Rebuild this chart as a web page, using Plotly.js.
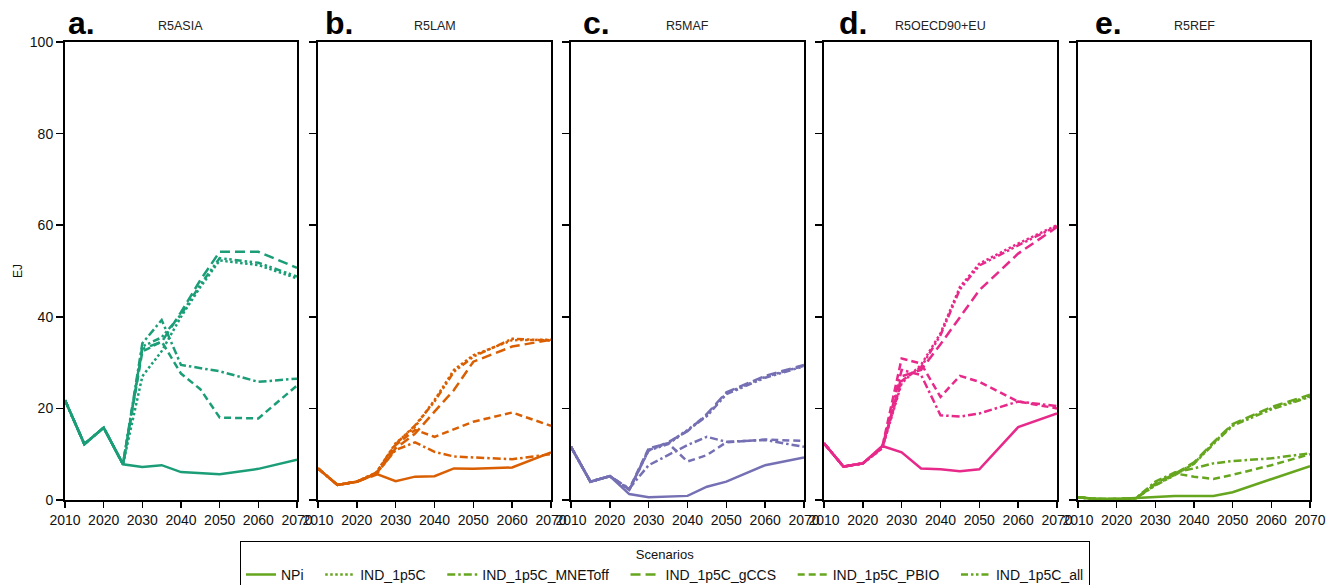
<!DOCTYPE html>
<html>
<head>
<meta charset="utf-8">
<script src="https://cdn.plot.ly/plotly-3.0.1.min.js"></script>
<style>html,body{margin:0;padding:0;background:#fff;}#chart{width:1330px;height:585px;}</style>
</head>
<body>
<div id="chart"></div>
<script>
// ---- data ----
const years = [2010, 2015, 2020, 2025, 2030, 2035, 2040, 2045, 2050, 2060, 2070];
const regions = ['R5ASIA', 'R5LAM', 'R5MAF', 'R5OECD90+EU', 'R5REF'];
const panelLetters = ['a.', 'b.', 'c.', 'd.', 'e.'];
const scenarios = ['NPi', 'IND_1p5C', 'IND_1p5C_MNEToff', 'IND_1p5C_gCCS', 'IND_1p5C_PBIO', 'IND_1p5C_all'];
const yTicks = [0, 20, 40, 60, 80, 100];
const xTicks = [2010, 2020, 2030, 2040, 2050, 2060, 2070];

// rows follow the scenarios order
const valsASIA = [
  [21.8, 12.2, 15.8, 7.8, 7.2, 7.6, 6.1, 5.9, 5.6, 6.8, 8.8],
  [21.8, 12.2, 15.8, 7.8, 27.0, 32.5, 40.0, 46.5, 52.3, 51.3, 48.4],
  [21.8, 12.2, 15.8, 7.8, 34.2, 39.3, 29.5, 28.8, 28.1, 25.8, 26.5],
  [21.8, 12.2, 15.8, 7.8, 33.0, 34.5, 41.0, 48.0, 54.2, 54.2, 50.7],
  [21.8, 12.2, 15.8, 7.8, 32.4, 34.6, 27.6, 24.2, 18.0, 17.8, 25.0],
  [21.8, 12.2, 15.8, 7.8, 33.5, 35.5, 40.5, 47.0, 52.8, 51.8, 48.8]
];
const valsLAM = [
  [6.9, 3.3, 4.0, 5.7, 4.1, 5.1, 5.2, 6.9, 6.8, 7.1, 10.4],
  [6.9, 3.3, 4.0, 6.0, 12.4, 16.0, 21.8, 28.4, 31.6, 34.9, 35.0],
  [6.9, 3.3, 4.0, 5.8, 10.9, 12.6, 10.5, 9.5, 9.3, 8.9, 10.0],
  [6.9, 3.3, 4.0, 5.5, 11.3, 14.5, 19.3, 24.0, 30.2, 33.5, 35.0],
  [6.9, 3.3, 4.0, 5.8, 12.0, 15.3, 13.8, 15.5, 17.1, 19.1, 16.2],
  [6.9, 3.3, 4.0, 6.0, 12.2, 16.3, 21.5, 28.0, 31.3, 35.2, 34.8]
];
const valsMAF = [
  [11.6, 4.0, 5.2, 1.3, 0.6, 0.8, 0.9, 2.9, 4.0, 7.6, 9.3],
  [11.6, 4.0, 5.2, 2.2, 10.9, 12.4, 15.3, 18.5, 23.3, 26.9, 29.3],
  [11.6, 4.0, 5.2, 2.5, 7.6, 9.8, 12.0, 13.8, 12.7, 13.1, 11.6],
  [11.6, 4.0, 5.2, 2.3, 11.0, 12.6, 15.0, 18.8, 23.5, 27.1, 29.5],
  [11.6, 4.0, 5.2, 2.4, 11.3, 12.4, 8.4, 9.8, 12.6, 13.2, 12.9],
  [11.6, 4.0, 5.2, 2.2, 10.8, 12.2, 15.2, 18.3, 23.1, 26.7, 29.2]
];
const valsOECD = [
  [12.4, 7.3, 8.0, 11.8, 10.4, 6.9, 6.7, 6.3, 6.7, 15.9, 18.9],
  [12.4, 7.3, 8.0, 11.3, 25.5, 29.5, 36.4, 46.5, 51.6, 56.0, 60.0],
  [12.4, 7.3, 8.0, 11.5, 28.4, 27.3, 18.5, 18.2, 18.9, 21.5, 20.5],
  [12.4, 7.3, 8.0, 11.4, 27.0, 28.4, 34.0, 40.0, 45.8, 53.8, 59.6],
  [12.4, 7.3, 8.0, 11.6, 30.9, 29.8, 22.5, 27.1, 25.8, 21.5, 20.0],
  [12.4, 7.3, 8.0, 11.3, 26.0, 29.0, 36.0, 46.0, 51.2, 55.6, 59.8]
];
const valsREF = [
  [0.6, 0.2, 0.2, 0.4, 0.6, 0.9, 0.9, 0.9, 1.7, 4.6, 7.4],
  [0.6, 0.2, 0.2, 0.4, 3.3, 5.5, 8.0, 12.4, 16.4, 20.0, 22.7],
  [0.6, 0.2, 0.2, 0.4, 4.0, 6.0, 6.9, 8.0, 8.5, 9.1, 10.2],
  [0.6, 0.2, 0.2, 0.4, 3.5, 5.7, 8.2, 12.6, 16.6, 20.3, 23.0],
  [0.6, 0.2, 0.2, 0.4, 3.6, 5.8, 5.1, 4.6, 5.5, 7.6, 10.0],
  [0.6, 0.2, 0.2, 0.4, 3.2, 5.4, 7.9, 12.2, 16.2, 19.8, 22.5]
];
const regionValues = [valsASIA, valsLAM, valsMAF, valsOECD, valsREF];

// ---- styles ----
const regionColors = ['#1b9e77', '#d95f02', '#7570b3', '#e7298a', '#66a61e'];
const scenarioDash = ['solid', '2.5px,2.5px', '8px,3px,2.5px,3px', '10px,5px', '7px,4px', '7px,3px,2.5px,2.5px,2.5px,3px'];
const W = 1330, H = 585;
const panelPx = [[65, 297], [318, 551], [571, 804], [824, 1057], [1078, 1310]];
const plotTop = 42, plotBottom = 500;
const px = v => v / W;
const py = v => 1 - v / H;
const FONT = 'Liberation Sans, Arial, sans-serif';
const PAD = '\u00a0\u00a0\u00a0';

const traces = [];
regionValues.forEach((vals, r) => {
  const sfx = r === 0 ? '' : String(r + 1);
  vals.forEach((row, s) => {
    traces.push({
      type: 'scatter', mode: 'lines',
      x: years, y: row,
      xaxis: 'x' + sfx, yaxis: 'y' + sfx,
      name: scenarios[s] + (s < scenarios.length - 1 ? PAD : ''),
      legendgroup: scenarios[s],
      showlegend: r === regionValues.length - 1,
      line: { color: regionColors[r], width: 2.5, dash: scenarioDash[s] },
      hoverinfo: 'skip'
    });
  });
});

const layout = {
  width: W, height: H,
  margin: { l: 0, r: 0, t: 0, b: 0, autoexpand: false },
  paper_bgcolor: '#fff', plot_bgcolor: '#fff',
  font: { family: FONT, size: 14, color: '#111' },
  showlegend: true,
  legend: {
    orientation: 'h',
    x: 0.5, xanchor: 'center',
    y: py(541), yanchor: 'top',
    bordercolor: '#000', borderwidth: 1,
    bgcolor: '#fff',
    font: { family: FONT, size: 14, color: '#111' },
    title: { text: 'Scenarios', side: 'top center', font: { family: FONT, size: 13, color: '#111' } },
    traceorder: 'normal'
  },
  annotations: [],
  hovermode: false
};

panelPx.forEach((p, i) => {
  const sfx = i === 0 ? '' : String(i + 1);
  layout['xaxis' + sfx] = {
    domain: [px(p[0]), px(p[1])],
    anchor: 'y' + sfx,
    range: [2010, 2070],
    tickvals: xTicks, ticktext: xTicks.map(String),
    ticks: 'outside', ticklen: 6, tickwidth: 1.5, tickcolor: '#000',
    showline: true, linewidth: 2, linecolor: '#000', mirror: true,
    showgrid: false, zeroline: false,
    tickfont: { family: FONT, size: 14, color: '#111' },
    fixedrange: true
  };
  layout['yaxis' + sfx] = {
    domain: [py(plotBottom), py(plotTop)],
    anchor: 'x' + sfx,
    range: [0, 100],
    tickvals: yTicks, ticktext: yTicks.map(String),
    ticks: 'outside', ticklen: 7, tickwidth: 1.5, tickcolor: '#000',
    showticklabels: i === 0,
    showline: true, linewidth: 2, linecolor: '#000', mirror: true,
    showgrid: false, zeroline: false,
    tickfont: { family: FONT, size: 14, color: '#111' },
    fixedrange: true
  };
  layout.annotations.push({
    xref: 'paper', yref: 'paper', x: px(p[0] + [1, 5, 10, 13, 15][i]), y: py(23),
    xanchor: 'left', yanchor: 'middle', showarrow: false,
    text: '<b>' + panelLetters[i] + '</b>',
    font: { family: FONT, size: 32, color: '#000' }
  });
  layout.annotations.push({
    xref: 'paper', yref: 'paper', x: px((p[0] + p[1]) / 2), y: py(26),
    xanchor: 'center', yanchor: 'middle', showarrow: false,
    text: regions[i],
    font: { family: FONT, size: 12.5, color: '#222' }
  });
});

layout.annotations.push({
  xref: 'paper', yref: 'paper', x: px(18), y: py(271),
  xanchor: 'center', yanchor: 'middle', showarrow: false,
  text: 'EJ', textangle: -90,
  font: { family: FONT, size: 12, color: '#111' }
});

Plotly.newPlot('chart', traces, layout, { displayModeBar: false, staticPlot: true });
</script>
</body>
</html>
